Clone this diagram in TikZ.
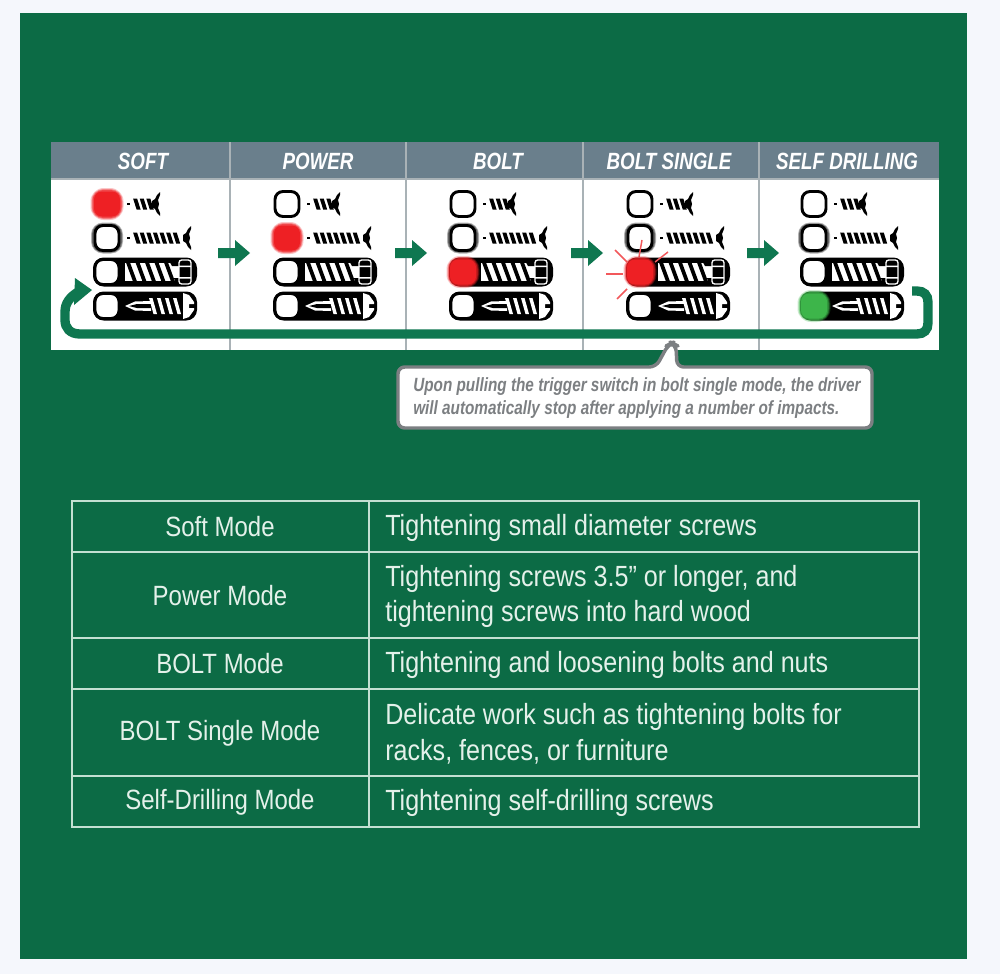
\documentclass[tikz,border=0pt]{standalone}
\usepackage{fontspec}
\setmainfont{Liberation Sans}
\newfontfamily\tablefont[FakeStretch=0.86]{Liberation Sans}
\newfontfamily\headfont[FakeStretch=0.80]{Liberation Sans Bold Italic}
\newfontfamily\notefont[FakeStretch=0.80]{Liberation Sans Bold Italic}
\definecolor{bggreen}{HTML}{0C6B45}
\definecolor{pagebg}{HTML}{F5F7FC}
\definecolor{headgrey}{HTML}{6A7F8C}
\definecolor{rulegrey}{HTML}{A9B2B6}
\definecolor{tabline}{HTML}{C4E0D2}
\definecolor{tabtext}{HTML}{E4F1EA}
\definecolor{arrowgreen}{HTML}{0F7750}
\definecolor{ledred}{HTML}{EE2024}
\definecolor{ledgreen}{HTML}{3DB54A}
\definecolor{notegrey}{HTML}{7C7F82}
\tikzset{
  x=0.75pt,y=-0.75pt,
  headtext/.style={text=white,font=\headfont\fontsize{17.6}{19}\selectfont,inner sep=0,anchor=center},
  celltext/.style={text=tabtext,font=\tablefont\fontsize{21.9}{26}\selectfont,inner sep=0},
  modetext/.style={text=tabtext,font=\tablefont\fontsize{20.9}{26}\selectfont,inner sep=0},
  notetext/.style={anchor=west,text=notegrey,font=\notefont\fontsize{14.35}{17}\selectfont,inner sep=0},
  tabrule/.style={draw=tabline,line width=1pt},
  flowarrow/.style={fill=arrowgreen,draw=none},
  loopline/.style={draw=arrowgreen,line width=7pt,line cap=butt},
  spark/.style={draw=ledred!75,line width=1.1pt},
}
% LED helpers: #1 cx, #2 cy
\newcommand{\ledoff}[2]{\fill[white,draw=black,line width=2.2pt,rounded corners=6pt] (#1-12,#2-12.5) rectangle (#1+12,#2+12.5);}
\newcommand{\ledhalo}[2]{\fill[black!30,rounded corners=9pt] (#1-16,#2-15.5) rectangle (#1+16,#2+15.5);\fill[black!60,rounded corners=8pt] (#1-15,#2-14.5) rectangle (#1+15,#2+14.5);\ledoff{#1}{#2}}
\newcommand{\ledon}[3]{%
  \fill[#3,opacity=.25,rounded corners=10pt] (#1-16.5,#2-16) rectangle (#1+16.5,#2+16);
  \fill[#3,opacity=.40,rounded corners=9pt] (#1-15.5,#2-15) rectangle (#1+15.5,#2+15);
  \fill[#3,opacity=.60,rounded corners=8pt] (#1-14.5,#2-14) rectangle (#1+14.5,#2+14);
  \fill[#3,rounded corners=6pt] (#1-13,#2-12.5) rectangle (#1+13,#2+12.5);}
% screw body: #1 start x, #2 y, #3 hatch count, #4 head x
\newcommand{\screwicon}[4]{%
  \fill[black] (#1,#2-1.2) rectangle (#1+3,#2+1.2);
  \foreach \k in {1,...,#3}{
    \fill[black] ({#1-0.5+\k*6.6},#2-5.5) -- ({#1+3.5+\k*6.6},#2-5.5) -- ({#1+7+\k*6.6},#2+5.5) -- ({#1+3+\k*6.6},#2+5.5) -- cycle;
  }
  \fill[black] (#4-6,#2-3) -- (#4-3,#2-5) -- (#4-1,#2-9) -- (#4+2,#2-12) -- (#4+2,#2-9) -- (#4,#2-4) -- (#4+1,#2) -- (#4,#2+4) -- (#4+2,#2+9) -- (#4+2,#2+12) -- (#4-1,#2+9) -- (#4-3,#2+5) -- (#4-6,#2+3) -- cycle;
}
\newcommand{\barbase}[2]{\fill[black,rounded corners=8pt] (#1-14,#2-14.5) rectangle (#1+90,#2+14.5);}
\newcommand{\bolthatch}[2]{%
  \fill[white] (#1+18,#2-9) rectangle (#1+72,#2+9);
  \foreach \k in {0,...,4}{
    \fill[black] ({#1+19+\k*9.5},#2-9.5) -- ({#1+23+\k*9.5},#2-9.5) -- ({#1+30+\k*9.5},#2+9.5) -- ({#1+26+\k*9.5},#2+9.5) -- cycle;
  }
  \fill[black] (#1+63,#2-9.5) -- (#1+72,#2-9.5) -- (#1+72,#2-6) -- (#1+65,#2-6) -- cycle;
  \fill[black] (#1+67,#2+6) -- (#1+73,#2+6) -- (#1+73,#2+9.5) -- (#1+68,#2+9.5) -- cycle;
  \draw[white,line width=1pt,rounded corners=2pt] (#1+72,#2-12) rectangle (#1+84,#2+12);
  \fill[white] (#1+72,#2-6.5) rectangle (#1+84,#2-5) (#1+72,#2+5) rectangle (#1+84,#2+6.5);
  \fill[black] (#1+75,#2-4) rectangle (#1+81,#2+4);}
\newcommand{\selfhatch}[2]{%
  \fill[white] (#1+18,#2) -- (#1+28,#2-4.5) -- (#1+44,#2-5) -- (#1+44,#2+5) -- (#1+28,#2+4.5) -- cycle;
  \fill[black] (#1+22,#2) -- (#1+30,#2-2) -- (#1+44,#2-2) -- (#1+44,#2+2) -- (#1+30,#2+2) -- cycle;
  \foreach \k in {0,...,3}{
    \fill[white] ({#1+42+\k*8},#2-8) -- ({#1+45.5+\k*8},#2-8) -- ({#1+50+\k*8},#2+8) -- ({#1+46.5+\k*8},#2+8) -- cycle;
  }
  \fill[white] (#1+76,#2-13) -- (#1+82,#2-11) -- (#1+87,#2-4) -- (#1+87,#2-2) -- (#1+82,#2-2) -- (#1+82,#2+2) -- (#1+87,#2+2) -- (#1+87,#2+4) -- (#1+82,#2+11) -- (#1+76,#2+13) -- cycle;}
% whole icon column: #1 cx
\newcommand{\iconcol}[1]{%
  \screwicon{#1+20}{204}{3}{#1+51}
  \screwicon{#1+20}{238}{7}{#1+82}
  \barbase{#1}{272}\bolthatch{#1}{272}
  \barbase{#1}{306}\selfhatch{#1}{306}}
\newcommand{\flowarrowat}[1]{\fill[flowarrow] (#1-16,248) -- (#1+1,248) -- (#1+1,240) -- (#1+16,253) -- (#1+1,266) -- (#1+1,258) -- (#1-16,258) -- cycle;}
\begin{document}
\begin{tikzpicture}
\useasboundingbox (0,0) rectangle (1000,974);
\fill[pagebg] (0,0) rectangle (1000,974);
\fill[bggreen] (20,13) rectangle (967,959);
% panel
\fill[white] (51,142) rectangle (939,350);
\fill[headgrey] (51,142) rectangle (939,179);
\draw[rulegrey,line width=.9pt] (51,179) -- (939,179);
\foreach \x in {230,406,583,759}{\draw[rulegrey,line width=.9pt] (\x,142) -- (\x,350);}
\node[headtext] (hsoft) at (143,161) {SOFT};
\node[headtext] (hpower) at (318,161) {POWER};
\node[headtext] (hbolt) at (498,161) {BOLT};
\node[headtext] (hsingle) at (669,161) {BOLT SINGLE};
\node[headtext] (hdrill) at (847,161) {SELF DRILLING};
% icons
\iconcol{107}\iconcol{287}\iconcol{463}\iconcol{640}\iconcol{814}
% column 1
\ledon{107}{204}{ledred}\ledhalo{107}{238}\ledoff{107}{272}\ledoff{107}{306}
% column 2
\ledoff{287}{204}\ledon{287}{238}{ledred}\ledoff{287}{272}\ledoff{287}{306}
% column 3
\ledoff{463}{204}\ledhalo{463}{238}\ledon{463}{272}{ledred}\ledoff{463}{306}
% column 4
\ledoff{640}{204}\ledhalo{640}{238}\ledoff{640}{306}
\draw[spark] (642,240) -- (639,257);
\draw[spark] (615,250) -- (627,262);
\draw[spark] (668,252) -- (655,262);
\draw[spark] (606,274) -- (623,274);
\draw[spark] (617,299) -- (627,289);
\ledon{640}{272}{ledred}
% column 5
\ledoff{814}{204}\ledhalo{814}{238}\ledoff{814}{272}\ledon{814}{306}{ledgreen}
% flow arrows
\flowarrowat{234}\flowarrowat{411}\flowarrowat{587}\flowarrowat{763}
% return loop
\coordinate (loopstart) at (912,291);
\coordinate (loopend) at (78,292);
\draw[loopline] (loopstart) -- (917,291) .. controls (924,291) and (928,295) .. (928,302) -- (928,323) .. controls (928,330) and (924,334) .. (917,334) -- (80,334) .. controls (70,334) and (65,328) .. (65,320) -- (65,312) .. controls (65,303) and (70,297) .. (loopend);
\fill[arrowgreen] (92,290) -- (75,278) -- (74,305) -- cycle;
% callout
\fill[white,draw=notegrey,line width=2.6pt,rounded corners=5pt,line join=round]
  (398,367) -- (656,367) -- (668,345) -- (672,343) -- (676,345) -- (677,367) -- (872,367) -- (872,428) -- (398,428) -- cycle;
\node[notetext] (note1) at (413,387) {Upon pulling the trigger switch in bolt single mode, the driver};
\node[notetext] (note2) at (413,410) {will automatically stop after applying a number of impacts.};
% table
\draw[tabrule] (72,501) rectangle (919,827);
\foreach \y in {552,638,689,776}{\draw[tabrule] (72,\y) -- (919,\y);}
\draw[tabrule] (369,501) -- (369,827);
\node[modetext] (m1) at (220,527) {Soft Mode};
\node[modetext] (m2) at (220,596) {Power Mode};
\node[modetext] (m3) at (220,664) {BOLT Mode};
\node[modetext] (m4) at (220,733) {BOLT Single Mode};
\node[modetext] (m5) at (220,802) {Self-Drilling Mode};
\node[celltext,anchor=west] (d1) at (385,528) {Tightening small diameter screws};
\node[celltext,anchor=west] (d2a) at (385,579) {Tightening screws 3.5” or longer, and};
\node[celltext,anchor=west] (d2b) at (385,614) {tightening screws into hard wood};
\node[celltext,anchor=west] (d3) at (385,665) {Tightening and loosening bolts and nuts};
\node[celltext,anchor=west] (d4a) at (385,717) {Delicate work such as tightening bolts for};
\node[celltext,anchor=west] (d4b) at (385,752) {racks, fences, or furniture};
\node[celltext,anchor=west] (d5) at (385,803) {Tightening self-drilling screws};
\end{tikzpicture}
\end{document}
